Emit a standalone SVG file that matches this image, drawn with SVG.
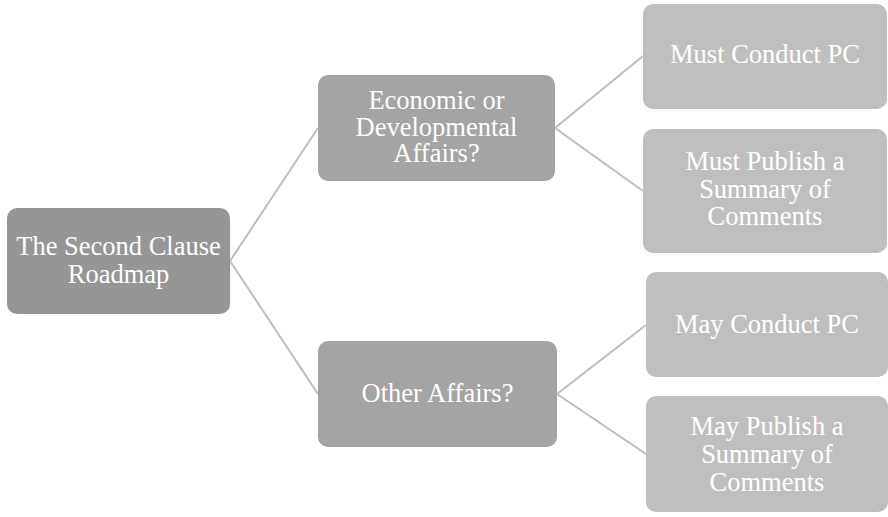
<svg xmlns="http://www.w3.org/2000/svg" width="888" height="517" viewBox="0 0 888 517">
<style>
.t{font-family:"Liberation Serif","Times New Roman",serif;font-size:26.5px;fill:#ffffff;text-anchor:middle}
.c{stroke:#bdbdbd;stroke-width:2;fill:none}
.r0{fill:#969696}
.r1{fill:#a4a4a4}
.r2{fill:#bfbfbf}
</style>
<rect width="888" height="517" fill="#ffffff"/>
<g id="connectors">
<line class="c" x1="230" y1="261" x2="318" y2="128"/>
<line class="c" x1="230" y1="261" x2="318" y2="394"/>
<line class="c" x1="555" y1="128" x2="643" y2="56"/>
<line class="c" x1="555" y1="128" x2="643" y2="191"/>
<line class="c" x1="557" y1="394" x2="646" y2="325"/>
<line class="c" x1="557" y1="394" x2="646" y2="454"/>
</g>
<g id="root">
<rect class="r0" x="7" y="208" width="223" height="106" rx="10"/>
<text class="t" x="118.5" y="255">The Second Clause</text>
<text class="t" x="118.5" y="283">Roadmap</text>
</g>
<g id="econ">
<rect class="r1" x="318" y="75" width="237" height="106" rx="10"/>
<text class="t" x="436.5" y="109">Economic or</text>
<text class="t" x="436.5" y="135.5">Developmental</text>
<text class="t" x="436.5" y="162">Affairs?</text>
</g>
<g id="other">
<rect class="r1" x="318" y="341" width="239" height="106" rx="10"/>
<text class="t" x="437.5" y="402">Other Affairs?</text>
</g>
<g id="mustConduct">
<rect class="r2" x="643" y="4" width="244" height="105" rx="10"/>
<text class="t" x="765" y="63">Must Conduct PC</text>
</g>
<g id="mustPublish">
<rect class="r2" x="643" y="129" width="244" height="124" rx="10"/>
<text class="t" x="765" y="170">Must Publish a</text>
<text class="t" x="765" y="198">Summary of</text>
<text class="t" x="765" y="225">Comments</text>
</g>
<g id="mayConduct">
<rect class="r2" x="646" y="272" width="242" height="105" rx="10"/>
<text class="t" x="767" y="333">May Conduct PC</text>
</g>
<g id="mayPublish">
<rect class="r2" x="646" y="396" width="242" height="116" rx="10"/>
<text class="t" x="767" y="435">May Publish a</text>
<text class="t" x="767" y="463">Summary of</text>
<text class="t" x="767" y="491">Comments</text>
</g>
</svg>
